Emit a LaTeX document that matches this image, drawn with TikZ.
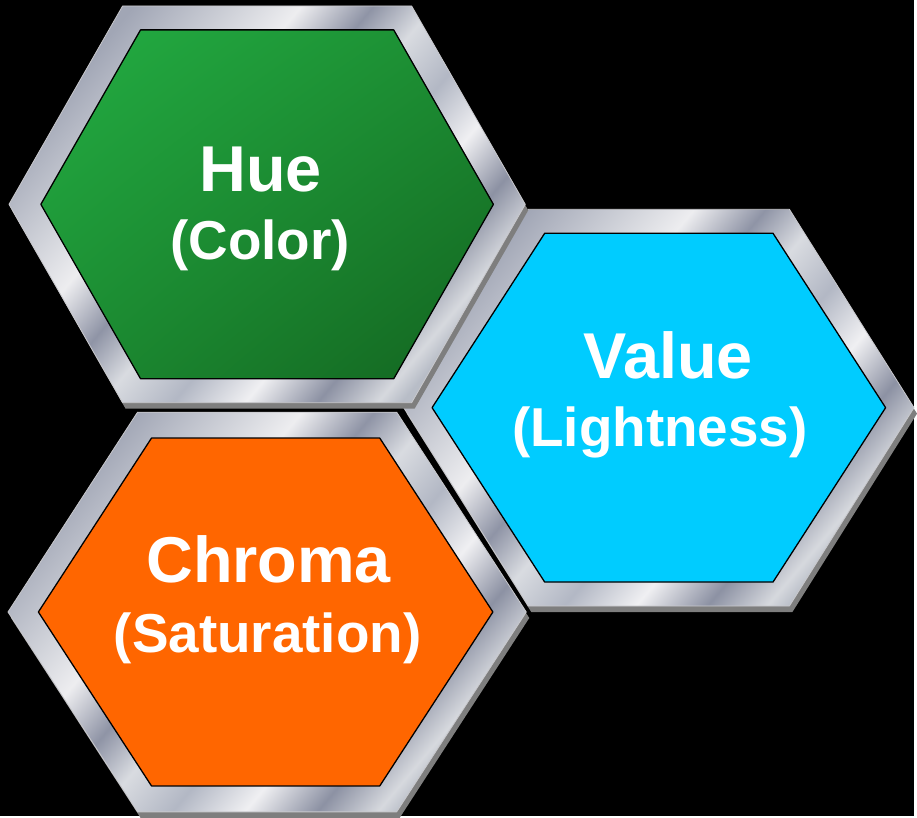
\documentclass[tikz,border=0pt]{standalone}
\usepackage{fontspec}
\setmainfont{Liberation Sans}
\usepackage{tikz}
\usetikzlibrary{shadings}
\newcommand{\hexa}[5]{(#1-#3,#2) -- (#1-#4,#2-#5) -- (#1+#4,#2-#5) -- (#1+#3,#2) -- (#1+#4,#2+#5) -- (#1-#4,#2+#5) -- cycle}
\pgfdeclarehorizontalshading{metal}{100bp}{rgb(0bp)=(0.63,0.65,0.71); rgb(25bp)=(0.63,0.65,0.71); rgb(33bp)=(0.80,0.81,0.84); rgb(39bp)=(0.93,0.93,0.94); rgb(45bp)=(0.56,0.58,0.65); rgb(50bp)=(0.85,0.86,0.88); rgb(56bp)=(0.70,0.72,0.77); rgb(62bp)=(0.94,0.94,0.95); rgb(68bp)=(0.55,0.57,0.64); rgb(73bp)=(0.84,0.85,0.87); rgb(75bp)=(0.72,0.74,0.78); rgb(100bp)=(0.72,0.74,0.78)}
\definecolor{huelight}{HTML}{23AE43}
\definecolor{huemid}{HTML}{1C8C32}
\definecolor{huedark}{HTML}{136420}
\definecolor{valblue}{HTML}{00CCFF}
\definecolor{chromaorange}{HTML}{FF6600}
\definecolor{shadowgray}{HTML}{7E7E7E}
\definecolor{rimgray}{HTML}{C8C8CC}

\begin{document}
\begin{tikzpicture}[line cap=round,line join=round,x=1pt,y=-1pt,
	metal/.style={shading=metal,shading angle=-40},
	rim/.style={draw=rimgray,line width=0.8pt},
	face/.style={draw=black,line width=1.3pt},
	big/.style={text=white,font=\bfseries\fontsize{65}{78}\selectfont,anchor=base},
	small/.style={text=white,font=\bfseries\fontsize{55}{66}\selectfont,anchor=base}]
		\fill[black] (0,0) rectangle (917,819);
		% value
		\fill[shadowgray,shift={(3,6)}] \hexa{661}{409}{256}{131}{199};
		\shade[metal] \hexa{661}{409}{256}{131}{199};
		\draw[rim] \hexa{661}{409}{256}{131}{199};
		\fill[valblue] \hexa{661}{409}{227.5}{114.5}{175};
		\draw[face] \hexa{661}{409}{227.5}{114.5}{175};
		% chroma
		\fill[shadowgray,shift={(3,6)}] \hexa{268}{614}{260}{130}{200.5};
		\shade[metal] \hexa{268}{614}{260}{130}{200.5};
		\draw[rim] \hexa{268}{614}{260}{130}{200.5};
		\fill[chromaorange] \hexa{266.5}{614}{228}{114.5}{174.5};
		\draw[face] \hexa{266.5}{614}{228}{114.5}{174.5};
		% hue
		\fill[shadowgray,shift={(3,6)}] \hexa{268}{205}{259}{145}{199};
		\shade[metal] \hexa{268}{205}{259}{145}{199};
		\draw[rim] \hexa{268}{205}{259}{145}{199};
		\shade[upper left=huelight,upper right=huemid,lower left=huemid,lower right=huedark] \hexa{268}{205}{227}{127}{175};
		\draw[face] \hexa{268}{205}{227}{127}{175};
		\node[big] (hue) at (261.5,192) {Hue};
		\node[small] (huesub) at (261,260) {(Color)};
		\node[big] (val) at (670.5,380) {Value};
		\node[small] (valsub) at (662,448) {(Lightness)};
		\node[big] (chroma) at (269.5,584) {Chroma};
		\node[small] (chromasub) at (268.5,655) {(Saturation)};
		\end{tikzpicture}
\end{document}
